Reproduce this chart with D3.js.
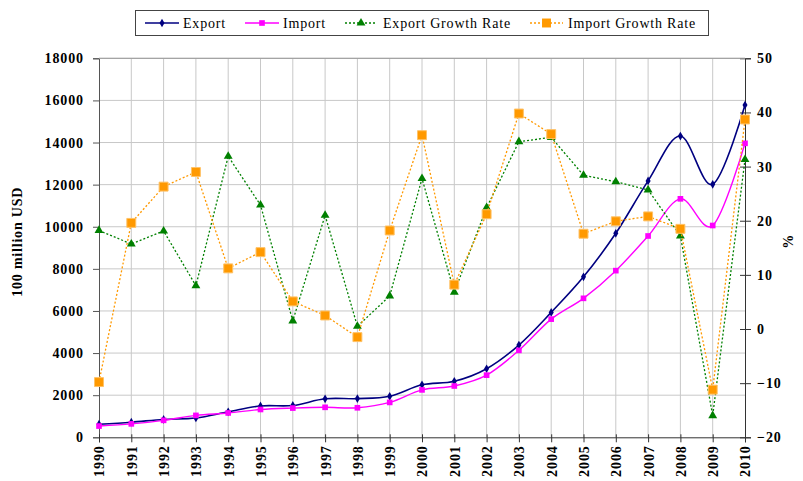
<!DOCTYPE html>
<html>
<head>
<meta charset="utf-8">
<script src="https://cdn.jsdelivr.net/npm/d3@7"></script>
<style>
  body { margin: 0; background: #fff; }
  svg text { font-family: "Liberation Serif", "Times New Roman", serif; }
</style>
</head>
<body>
<script>
// chart values
const years = [1990, 1991, 1992, 1993, 1994, 1995, 1996, 1997, 1998, 1999, 2000,
               2001, 2002, 2003, 2004, 2005, 2006, 2007, 2008, 2009, 2010]
const exportValues = [621, 718, 849, 917, 1210, 1488, 1511, 1828, 1837, 1949, 2492,
                      2661, 3256, 4382, 5933, 7620, 9689, 12178, 14307, 12016, 15778]
const importValues = [534, 638, 806, 1040, 1156, 1321, 1388, 1424, 1402, 1657, 2251,
                      2436, 2952, 4128, 5612, 6600, 7915, 9561, 11326, 10059, 13962]
const exportGrowth = [18.2, 15.7, 18.1, 8.0, 31.9, 22.9, 1.5, 21.0, 0.5, 6.1, 27.8,
                      6.8, 22.4, 34.6, 35.4, 28.4, 27.2, 25.7, 17.2, -16.0, 31.3]
const importGrowth = [-9.8, 19.6, 26.3, 29.0, 11.2, 14.2, 5.1, 2.5, -1.5, 18.2, 35.8,
                      8.2, 21.2, 39.8, 36.0, 17.6, 19.9, 20.8, 18.5, -11.2, 38.7]
const leftTicks = [0, 2000, 4000, 6000, 8000, 10000, 12000, 14000, 16000, 18000]
const rightTicks = [-20, -10, 0, 10, 20, 30, 40, 50]
const seriesNames = ["Export", "Import", "Export Growth Rate", "Import Growth Rate"]

const width = 803
const height = 481
const plotLeft = 99, plotRight = 745, plotTop = 58.3, plotBottom = 437.3
const serif = "'Liberation Serif', 'Times New Roman', serif"

const svg = d3.select("body").append("svg")
    .attr("width", width)
    .attr("height", height)

const x = d3.scaleLinear().domain([1990, 2010]).range([plotLeft, plotRight])
const y = d3.scaleLinear().domain([0, 18000]).range([plotBottom, plotTop])
const y2 = d3.scaleLinear().domain([-20, 50]).range([plotBottom, plotTop])

/* gridlines */
svg.append("g").selectAll("line")
    .data(leftTicks.slice(1))
    .enter().append("line")
    .attr("x1", plotLeft).attr("x2", plotRight)
    .attr("y1", d => y(d)).attr("y2", d => y(d))
    .attr("stroke", "#c8c8c8")
svg.append("g").selectAll("line")
    .data(years.slice(1, -1))
    .enter().append("line")
    .attr("x1", d => x(d)).attr("x2", d => x(d))
    .attr("y1", plotTop).attr("y2", plotBottom)
    .attr("stroke", "#c8c8c8")

/* axes */
const tickFont = g => {
    g.attr("font-family", serif)
    g.selectAll("text")
        .attr("fill", "#000")
        .style("font-size", "14px")
        .style("font-weight", "bold")
        .style("letter-spacing", "0.9px")
        .style("font-family", serif)
}

const leftAxis = svg.append("g")
    .attr("transform", `translate(${plotLeft},0)`)
    .call(d3.axisLeft(y).tickValues(leftTicks).tickFormat(d3.format("d")).tickSizeOuter(0).tickSize(6).tickPadding(9))
leftAxis.call(tickFont)
leftAxis.selectAll("path, line").attr("stroke", "#555")

const rightAxis = svg.append("g")
    .attr("transform", `translate(${plotRight},0)`)
    .call(d3.axisRight(y2).tickValues(rightTicks).tickFormat(d3.format("d")).tickSizeOuter(0).tickSize(6).tickPadding(6))
rightAxis.call(tickFont)
rightAxis.selectAll("path, line").attr("stroke", "#333")
rightAxis.selectAll(".tick line").attr("x1", -5)

const bottomAxis = svg.append("g")
    .attr("transform", `translate(0,${plotBottom})`)
    .call(d3.axisBottom(x).tickValues(years).tickFormat(d3.format("d")).tickSizeOuter(0).tickSize(5))
bottomAxis.call(tickFont)
bottomAxis.selectAll("path, line").attr("stroke", "#333")
bottomAxis.selectAll(".tick line").attr("y1", -3)
bottomAxis.selectAll("text")
    .attr("x", -8).attr("y", 0).attr("dy", "0.35em")
    .attr("transform", "rotate(-90)")
    .style("text-anchor", "end")

// top border gridline
svg.append("line")
    .attr("x1", plotLeft).attr("x2", plotRight)
    .attr("y1", plotTop).attr("y2", plotTop)
    .attr("stroke", "#999")

/* axis titles */
svg.append("text")
    .attr("transform", `translate(22,${(plotTop + plotBottom) / 2 - 6}) rotate(-90)`)
    .attr("text-anchor", "middle")
    .style("font-family", serif)
    .style("font-size", "14px")
    .style("font-weight", "bold")
    .style("letter-spacing", "0.8px")
    .text("100 million USD")
svg.append("text")
    .attr("transform", `translate(793,${(plotTop + plotBottom) / 2 - 6}) rotate(-90)`)
    .attr("text-anchor", "middle")
    .style("font-family", serif)
    .style("font-size", "14px")
    .style("font-weight", "bold")
    .text("%")

/* series */
const series = [
    {name: seriesNames[0], values: exportValues, scale: y, color: "#000080", dash: null, width: 1.6,
     symbol: d3.symbolDiamond, size: 22, curve: d3.curveCardinal.tension(0)},
    {name: seriesNames[1], values: importValues, scale: y, color: "#ff00ff", dash: null, width: 1.4,
     symbol: d3.symbolSquare, size: 32, curve: d3.curveCardinal.tension(0)},
    {name: seriesNames[2], values: exportGrowth, scale: y2, color: "#008000", dash: "2,2", width: 1.3,
     symbol: d3.symbolTriangle, size: 34, curve: d3.curveLinear},
    {name: seriesNames[3], values: importGrowth, scale: y2, color: "#ff9900", dash: "2,2", width: 1.3,
     symbol: d3.symbolSquare, size: 80, curve: d3.curveLinear}
]

series.forEach(s => {
    const line = d3.line()
        .x((d, i) => x(years[i]))
        .y(d => s.scale(d))
        .curve(s.curve)
    svg.append("path")
        .datum(s.values)
        .attr("fill", "none")
        .attr("stroke", s.color)
        .attr("stroke-width", s.width)
        .attr("stroke-dasharray", s.dash)
        .attr("d", line)
    svg.append("g").selectAll("path")
        .data(s.values)
        .enter().append("path")
        .attr("d", d3.symbol().type(s.symbol).size(s.size))
        .attr("transform", (d, i) => `translate(${x(years[i])},${s.scale(d)})`)
        .attr("fill", s.color)
        .attr("stroke", s.size > 50 ? "#ffc266" : "none")
})

/* legend */
svg.append("rect")
    .attr("x", 135.5).attr("y", 10.5)
    .attr("width", 573).attr("height", 25)
    .attr("fill", "#fff")
    .attr("stroke", "#444")

const legendX = [[145, 179, 183], [245, 279, 283], [345, 377, 383], [530, 563, 568]]
const legendY = 23
series.forEach((s, i) => {
    const [x1, x2, tx] = legendX[i]
    svg.append("line")
        .attr("x1", x1).attr("x2", x2)
        .attr("y1", legendY).attr("y2", legendY)
        .attr("stroke", s.color)
        .attr("stroke-width", 1.3)
        .attr("stroke-dasharray", s.dash)
    svg.append("path")
        .attr("d", d3.symbol().type(s.symbol).size(s.size))
        .attr("transform", `translate(${(x1 + x2) / 2},${legendY})`)
        .attr("fill", s.color)
    svg.append("text")
        .attr("x", tx).attr("y", legendY)
        .attr("dy", "0.35em")
        .style("font-family", serif)
        .style("font-size", "14px")
        .style("letter-spacing", "0.8px")
        .text(s.name)
})
</script>
</body>
</html>
